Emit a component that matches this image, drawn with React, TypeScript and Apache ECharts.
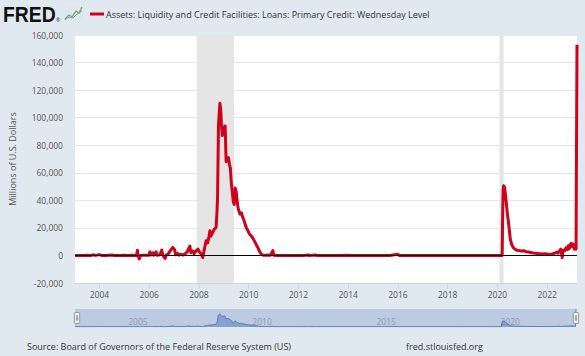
import React, { useEffect, useRef } from "react";
import * as echarts from "echarts";

const seriesName =
  "Assets: Liquidity and Credit Facilities: Loans: Primary Credit: Wednesday Level";
const yAxisTitle = "Millions of U.S. Dollars";
const sourceText = "Source: Board of Governors of the Federal Reserve System (US)";
const siteText = "fred.stlouisfed.org";

const xStart = "2003-01-08";
const xEnd = "2023-03-15";
const yMin = -20000;
const yMax = 160000;
const yStep = 20000;
const xTickYears = [2004, 2006, 2008, 2010, 2012, 2014, 2016, 2018, 2020, 2022];
const navTickYears = [2005, 2010, 2015, 2020];
const recessions = [
  ["2007-12-01", "2009-06-01"],
  ["2020-02-01", "2020-04-01"],
];

const dates = [
  "2003-01-08", "2003-03-05", "2003-05-07", "2003-07-02", "2003-09-03", "2003-10-01",
  "2003-11-05", "2003-12-31", "2004-02-04", "2004-04-07", "2004-06-30", "2004-08-04",
  "2004-10-06", "2004-12-29", "2005-03-02", "2005-05-04", "2005-06-29", "2005-07-13",
  "2005-07-20", "2005-08-10", "2005-08-24", "2005-10-05", "2005-12-28", "2006-01-11",
  "2006-01-25", "2006-02-22", "2006-03-08", "2006-04-12", "2006-04-26", "2006-06-07",
  "2006-07-05", "2006-07-19", "2006-08-23", "2006-09-06", "2006-10-04", "2006-11-08",
  "2006-12-13", "2007-01-10", "2007-01-24", "2007-02-21", "2007-03-14", "2007-04-11",
  "2007-05-16", "2007-06-13", "2007-07-11", "2007-08-22", "2007-09-05", "2007-10-03",
  "2007-10-24", "2007-11-14", "2007-12-19", "2008-01-09", "2008-02-06", "2008-02-27",
  "2008-03-19", "2008-04-16", "2008-05-07", "2008-05-28", "2008-06-11", "2008-06-25",
  "2008-07-23", "2008-08-13", "2008-09-10", "2008-09-24", "2008-10-01", "2008-10-15",
  "2008-11-05", "2008-11-19", "2008-11-26", "2008-12-10", "2008-12-24", "2009-01-07",
  "2009-01-21", "2009-02-04", "2009-02-18", "2009-03-11", "2009-03-25", "2009-04-08",
  "2009-04-22", "2009-05-06", "2009-05-20", "2009-06-03", "2009-06-17", "2009-07-01",
  "2009-07-15", "2009-07-29", "2009-08-12", "2009-08-26", "2009-09-16", "2009-10-07",
  "2009-10-28", "2009-11-25", "2009-12-16", "2010-01-13", "2010-02-10", "2010-03-10",
  "2010-03-31", "2010-04-21", "2010-05-19", "2010-06-09", "2010-07-07", "2010-08-04",
  "2010-09-01", "2010-10-06", "2010-11-17", "2010-12-22", "2011-01-05", "2011-03-02",
  "2011-06-01", "2011-09-07", "2011-12-07", "2012-03-07", "2012-05-23", "2012-06-06",
  "2012-09-12", "2012-09-26", "2012-12-05", "2013-03-06", "2013-06-05", "2013-09-04",
  "2013-12-04", "2014-03-05", "2014-06-04", "2014-09-03", "2014-12-03", "2015-03-04",
  "2015-06-03", "2015-09-02", "2015-12-30", "2016-01-06", "2016-01-20", "2016-06-01",
  "2016-09-07", "2016-12-07", "2017-03-01", "2017-06-07", "2017-09-06", "2017-12-06",
  "2018-03-07", "2018-06-06", "2018-09-05", "2018-12-05", "2019-03-06", "2019-06-05",
  "2019-09-04", "2019-12-04", "2020-02-05", "2020-03-11", "2020-03-18", "2020-03-25",
  "2020-04-01", "2020-04-15", "2020-04-29", "2020-05-13", "2020-05-27", "2020-06-17",
  "2020-07-08", "2020-07-29", "2020-08-19", "2020-09-16", "2020-10-14", "2020-11-18",
  "2020-12-16", "2021-01-20", "2021-02-24", "2021-03-31", "2021-05-05", "2021-06-09",
  "2021-07-14", "2021-08-18", "2021-09-22", "2021-10-27", "2021-12-01", "2022-01-05",
  "2022-02-09", "2022-03-16", "2022-04-20", "2022-05-18", "2022-06-08", "2022-06-29",
  "2022-07-20", "2022-08-10", "2022-08-24", "2022-09-14", "2022-10-05", "2022-10-26",
  "2022-11-09", "2022-11-23", "2022-12-07", "2022-12-21", "2023-01-04", "2023-01-18",
  "2023-01-25", "2023-02-08", "2023-02-22", "2023-03-01", "2023-03-08", "2023-03-15",
];

const values = [
  20, 10, 30, 60, 20, 450,
  30, 600, 20, 40, 300, 30,
  20, 150, 30, 60, 20, 3800,
  40, -2500, 30, 80, 200, 2600,
  300, 1800, 200, 2700, 100, 500,
  4000, 200, -2200, 300, 800, 3500,
  5800, 4200, 500, 1500, 200, 800,
  300, 1200, 2500, 6800, 2000, 3400,
  1200, 3000, 4600, 2500, 1000, -1500,
  4000, 10600, 9000, 13500, 17900, 14000,
  16700, 19000, 20300, 33000, 42000, 95000,
  110500, 104000, 96000, 87000, 93000, 92000,
  94000, 68000, 70000, 71000, 66000, 63000,
  52000, 46000, 39000, 37000, 49000, 46500,
  40000, 34500, 32000, 30000, 31000, 27500,
  25000, 20300, 18500, 15500, 14000, 12000,
  10000, 8000, 5500, 3000, 800, 150,
  200, 300, 100, 3500, 100, 20,
  10, 30, 20, 10, 400, 20,
  350, 10, 20, 10, 30, 20,
  80, 10, 20, 10, 40, 10,
  20, 30, 900, 1100, 20, 10,
  20, 30, 10, 20, 20, 50,
  10, 20, 20, 30, 10, 20,
  20, 30, 10, 30, 28000, 47000,
  50500, 49500, 44000, 37000, 30000, 22000,
  12000, 8000, 5800, 4500, 3800, 3500,
  3200, 3400, 2700, 2500, 2100, 1800,
  1600, 1400, 1300, 1100, 1200, 1000,
  900, 1100, 1600, 2300, 1700, 3200,
  4600, -1500, 3800, 3400, 5500, 4200,
  7000, 5000, 7800, 8700, 6500, 8200,
  5800, 4500, 5000, 4600, 4600, 152853,
];

const RED = "#d0021b";
const FONT = "'Open Sans', sans-serif";

function yearTs(y: number) {
  return Date.UTC(y, 0, 1);
}

export default function App() {
  const ref = useRef<HTMLDivElement>(null);

  useEffect(() => {
    if (!ref.current) return;
    const chart = echarts.init(ref.current, undefined, { renderer: "svg" });
    const seriesData = dates.map((d, i) => [Date.parse(d), values[i]]);
    const xMin = Date.parse(xStart);
    const xMax = Date.parse(xEnd);

    const option: any = {
      animation: false,
      backgroundColor: "#e1e9f0",
      textStyle: { fontFamily: FONT },
      grid: [
        { left: 75, right: 8, top: 35, bottom: 73, show: true, backgroundColor: "#ffffff", borderWidth: 0 },
        { left: 75, right: 9, top: 309, height: 18, show: true, backgroundColor: "#bccbe2", borderWidth: 0 },
      ],
      xAxis: [
        {
          type: "value",
          gridIndex: 0,
          min: xMin,
          max: xMax,
          axisLine: { show: true, onZero: false, lineStyle: { color: "#ccd6eb" } },
          axisTick: {
            show: true,
            length: 6,
            customValues: xTickYears.map(yearTs),
            lineStyle: { color: "#ccd6eb" },
          },
          axisLabel: {
            customValues: xTickYears.map(yearTs),
            formatter: (v: number) => String(new Date(v).getUTCFullYear()),
            fontSize: 8.5,
            color: "#555",
            fontFamily: FONT,
            margin: 7,
          },
          splitLine: { show: false },
        },
        {
          type: "value",
          gridIndex: 1,
          min: xMin,
          max: xMax,
          axisLine: { show: false },
          axisTick: { show: false },
          axisLabel: {
            inside: true,
            customValues: navTickYears.map(yearTs),
            formatter: (v: number) => String(new Date(v).getUTCFullYear()),
            fontSize: 8.5,
            color: "#8a9ab5",
            fontFamily: FONT,
            align: "left",
            verticalAlign: "bottom",
            margin: 1,
            padding: [0, 0, 0, 4],
          },
          splitLine: { show: false },
        },
      ],
      yAxis: [
        {
          type: "value",
          gridIndex: 0,
          min: yMin,
          max: yMax,
          interval: yStep,
          axisLine: { show: false },
          axisTick: { show: false },
          axisLabel: {
            formatter: (v: number) => v.toLocaleString("en-US"),
            fontSize: 8.5,
            color: "#555",
            fontFamily: FONT,
            margin: 12,
          },
          splitLine: { lineStyle: { color: "#e6e6e6", width: 1 } },
          name: yAxisTitle,
          nameLocation: "middle",
          nameGap: 58,
          nameTextStyle: { fontSize: 9, color: "#555", fontFamily: FONT },
        },
        {
          type: "value",
          gridIndex: 1,
          show: false,
          min: "dataMin",
          max: "dataMax",
        },
      ],
      dataZoom: [
        {
          type: "slider",
          xAxisIndex: 0,
          start: 0,
          end: 100,
          left: 75,
          right: 9,
          top: 309,
          height: 18,
          showDataShadow: false,
          showDetail: false,
          brushSelect: false,
          moveHandleSize: 0,
          backgroundColor: "rgba(0,0,0,0)",
          fillerColor: "rgba(0,0,0,0)",
          borderColor: "rgba(0,0,0,0)",
          handleIcon:
            "path://M1,0 L7,0 Q8,0 8,1 L8,15 Q8,16 7,16 L1,16 Q0,16 0,15 L0,1 Q0,0 1,0 Z M3,4 L3,12 M5,4 L5,12",
          handleSize: "60%",
          handleStyle: { color: "#f2f2f2", borderColor: "#999999", borderWidth: 1 },
          emphasis: { handleStyle: { color: "#f2f2f2", borderColor: "#999999" } },
        },
      ],
      series: [
        {
          name: seriesName,
          type: "line",
          xAxisIndex: 0,
          yAxisIndex: 0,
          data: seriesData,
          showSymbol: false,
          symbol: "none",
          lineStyle: { color: RED, width: 3, join: "round" },
          z: 3,
          markArea: {
            silent: true,
            itemStyle: { color: "#e5e5e5" },
            data: recessions.map(([a, b]) => [{ xAxis: Date.parse(a) }, { xAxis: Date.parse(b) }]),
          },
        },
        {
          type: "line",
          xAxisIndex: 0,
          yAxisIndex: 0,
          data: [],
          z: 5,
          markLine: {
            silent: true,
            symbol: ["none", "none"],
            label: { show: false },
            lineStyle: { color: "#000000", width: 1.2, type: "solid" },
            data: [{ yAxis: 0 }],
          },
        },
        {
          type: "line",
          xAxisIndex: 1,
          yAxisIndex: 1,
          data: seriesData,
          showSymbol: false,
          symbol: "none",
          lineStyle: { color: "#4a6fb5", width: 0.8 },
          areaStyle: { color: "#5a7fc0", opacity: 0.55, origin: "start" },
          z: 2,
        },
      ],
      graphic: [
        {
          type: "text",
          x: 3,
          y: 3,
          scaleX: 0.88,
          style: {
            text: "FRED",
            font: "bold 22px 'Liberation Sans', Arial, sans-serif",
            fill: "#111111",
          },
        },
        {
          type: "text",
          x: 56,
          y: 17,
          style: { text: "®", fontSize: 5, fill: "#333", fontFamily: FONT },
        },
        {
          type: "rect",
          shape: { x: 64, y: 5, width: 19, height: 16 },
          style: { fill: "#dfe6ee" },
        },
        {
          type: "polyline",
          shape: { points: [[65, 19], [69, 15], [72, 17], [76, 11], [79, 13], [82, 7]] },
          style: { stroke: "#6aa84f", lineWidth: 1.2, fill: "none" },
        },
        {
          type: "polyline",
          shape: { points: [[65, 20], [69, 17], [73, 18], [77, 14], [82, 11]] },
          style: { stroke: "#7f9cc4", lineWidth: 1, fill: "none" },
        },
        {
          type: "rect",
          shape: { x: 90, y: 12.5, width: 14, height: 3 },
          style: { fill: RED },
        },
        {
          type: "text",
          x: 106,
          y: 14,
          style: {
            text: seriesName,
            fontSize: 9,
            fontFamily: FONT,
            fill: "#333333",
            verticalAlign: "middle",
          },
        },
        {
          type: "text",
          x: 27,
          y: 346,
          style: {
            text: sourceText,
            fontSize: 9,
            fontFamily: FONT,
            fill: "#333333",
            verticalAlign: "middle",
          },
        },
        {
          type: "text",
          x: 406,
          y: 346,
          style: {
            text: siteText,
            fontSize: 9,
            fontFamily: FONT,
            fill: "#333333",
            verticalAlign: "middle",
          },
        },
      ],
    };

    chart.setOption(option);
    return () => {
      chart.dispose();
    };
  }, []);

  return (
    <div
      ref={ref}
      style={{ position: "fixed", left: 0, top: 0, width: 585, height: 356 }}
    />
  );
}
